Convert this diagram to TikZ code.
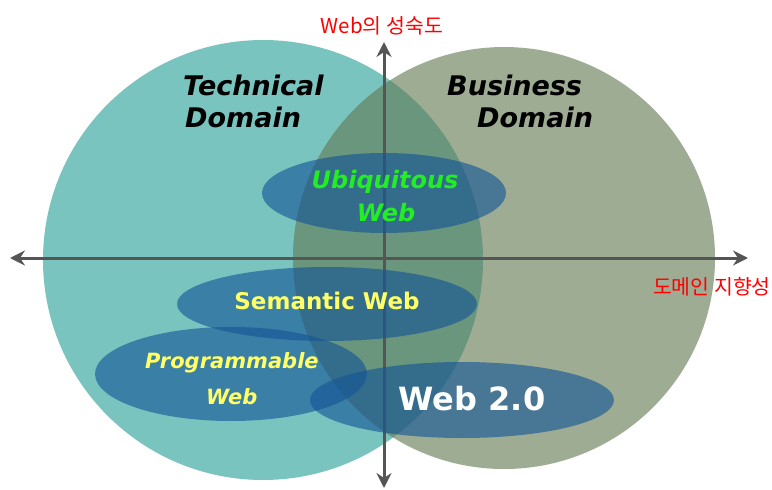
\documentclass[tikz,border=0pt]{standalone}
\usepackage{fontspec}
\setmainfont{DejaVu Sans}
\newfontfamily\krfont{Noto Sans CJK KR}
\usetikzlibrary{arrows.meta}
\definecolor{techc}{RGB}{122,196,192}
\definecolor{busc}{RGB}{158,172,148}
\definecolor{overc}{RGB}{106,150,126}
\definecolor{ellc}{RGB}{20,85,150}
\definecolor{axisc}{RGB}{85,85,85}
\definecolor{yel}{RGB}{255,255,102}
\definecolor{grn}{RGB}{34,238,34}
\tikzset{
  ellbox/.style={fill=ellc, fill opacity=0.62},
  axisline/.style={draw=axisc, line width=3pt, {Stealth[length=15pt,width=15pt,inset=5pt]}-{Stealth[length=15pt,width=15pt,inset=5pt]}},
  domtext/.style={font=\fontsize{27}{30}\selectfont\bfseries\itshape, text=black, inner sep=0pt},
  redtext/.style={font=\krfont\fontsize{20.5}{22}\selectfont, text=red, inner sep=0pt},
}
\begin{document}
\begin{tikzpicture}[x=1pt,y=-1pt]
\useasboundingbox[fill=white] (0,0) rectangle (772,490);
% circles
\fill[techc] (263,260) circle[radius=220pt];
\fill[busc] (504,258) circle[radius=211pt];
\begin{scope}
\clip (263,260) circle[radius=220pt];
\fill[overc] (504,258) circle[radius=211pt];
\end{scope}
% axes
\coordinate (L) at (10,258);
\coordinate (R) at (748,258);
\coordinate (T) at (384,42);
\coordinate (B) at (384,488);
\draw[axisline] (L) -- (R);
\draw[axisline] (B) -- (T);
% ellipses
\fill[ellbox] (384,193) ellipse[x radius=122pt, y radius=40pt];
\fill[ellbox] (327,304) ellipse[x radius=150pt, y radius=37pt];
\fill[ellbox] (231,374) ellipse[x radius=136pt, y radius=47pt];
\fill[ellbox] (462,400) ellipse[x radius=152pt, y radius=38pt];
% texts
\node[domtext, anchor=base west] (tech1) at (183,95) {Technical};
\node[domtext, anchor=base west] (tech2) at (185,127) {Domain};
\node[domtext, anchor=base west] (bus1) at (447,95) {Business};
\node[domtext, anchor=base west] (bus2) at (477,127) {Domain};
\node[font=\fontsize{24}{26}\selectfont\bfseries\itshape, text=grn, inner sep=0pt, anchor=base] (ubi1) at (385,188) {Ubiquitous};
\node[font=\fontsize{24}{26}\selectfont\bfseries\itshape, text=grn, inner sep=0pt, anchor=base] (ubi2) at (386,221) {Web};
\node[font=\fontsize{23}{25}\selectfont\bfseries, text=yel, inner sep=0pt, anchor=base] (sem) at (327,309) {Semantic Web};
\node[font=\fontsize{21}{23}\selectfont\bfseries\itshape, text=yel, inner sep=0pt, anchor=base west] (prog1) at (145,368) {Programmable};
\node[font=\fontsize{21}{23}\selectfont\bfseries\itshape, text=yel, inner sep=0pt, anchor=base west] (prog2) at (206,404) {Web};
\node[font=\fontsize{32}{34}\selectfont\bfseries, text=white, inner sep=0pt, anchor=base] (w20) at (472,410) {Web 2.0};
\node[redtext] (ylab) at (382,26) {Web의 성숙도};
\node[redtext, anchor=east] (xlab) at (771,287) {도메인 지향성};
\end{tikzpicture}
\end{document}
